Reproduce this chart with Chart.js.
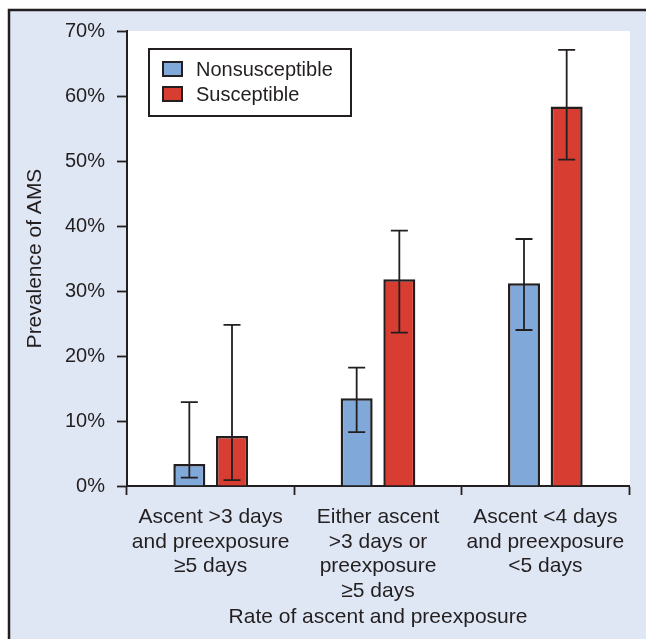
<!DOCTYPE html>
<html>
<head>
<meta charset="utf-8">
<title>Prevalence of AMS by rate of ascent and preexposure</title>
<script src="https://cdn.jsdelivr.net/npm/chart.js@4.4.1/dist/chart.umd.min.js"></script>
<style>
  html, body { margin: 0; padding: 0; background: #ffffff; }
  #wrap { width: 646px; height: 639px; }
</style>
</head>
<body>
<div id="wrap"><canvas id="c" width="646" height="639"></canvas></div>
<script>
// Category labels (multi-line)
const categories = [
  ['Ascent >3 days', 'and preexposure', '\u22655 days'],
  ['Either ascent', '>3 days or', 'preexposure', '\u22655 days'],
  ['Ascent <4 days', 'and preexposure', '<5 days']
];

// Prevalence of AMS (%) and 95% confidence limits
const nonsusceptible = [3.4, 13.5, 31.2];
const nonsusceptibleLow = [1.3, 8.3, 24.0];
const nonsusceptibleHigh = [12.9, 18.2, 38.0];

const susceptible = [7.7, 31.8, 58.4];
const susceptibleLow = [0.9, 23.6, 50.2];
const susceptibleHigh = [24.8, 39.3, 67.1];

const yTicks = [0, 10, 20, 30, 40, 50, 60, 70];

const INK = '#231f20';
const FONT = "'Liberation Sans', Arial, Helvetica, sans-serif";

// Panel background, frame and white plotting area
const panelPlugin = {
  id: 'panel',
  beforeDraw(chart) {
    const ctx = chart.ctx;
    const a = chart.chartArea;
    ctx.save();
    ctx.fillStyle = '#ffffff';
    ctx.fillRect(0, 0, chart.width, chart.height);
    ctx.fillStyle = '#dfe7f4';
    ctx.fillRect(8, 9, chart.width - 8, chart.height - 9);
    ctx.strokeStyle = INK;
    ctx.lineWidth = 2.5;
    ctx.beginPath();
    ctx.moveTo(9, chart.height);
    ctx.lineTo(9, 10);
    ctx.lineTo(chart.width, 10);
    ctx.stroke();
    ctx.fillStyle = '#ffffff';
    ctx.fillRect(a.left, a.top, a.right - a.left + 1, a.bottom - a.top);
    ctx.restore();
  }
};

// Confidence-interval whiskers drawn over each bar
const errorBarPlugin = {
  id: 'errorBars',
  afterDatasetsDraw(chart) {
    const ctx = chart.ctx;
    const y = chart.scales.y;
    const limits = [
      [nonsusceptibleLow, nonsusceptibleHigh],
      [susceptibleLow, susceptibleHigh]
    ];
    ctx.save();
    ctx.strokeStyle = INK;
    ctx.lineWidth = 1.8;
    chart.data.datasets.forEach((ds, di) => {
      const meta = chart.getDatasetMeta(di);
      meta.data.forEach((bar, i) => {
        const x = bar.x;
        const yl = y.getPixelForValue(limits[di][0][i]);
        const yh = y.getPixelForValue(limits[di][1][i]);
        const cap = 8.5;
        ctx.beginPath();
        ctx.moveTo(x, yl);
        ctx.lineTo(x, yh);
        ctx.moveTo(x - cap, yh);
        ctx.lineTo(x + cap, yh);
        ctx.moveTo(x - cap, yl);
        ctx.lineTo(x + cap, yl);
        ctx.stroke();
      });
    });
    ctx.restore();
  }
};

// Boxed legend in the upper-left of the plotting area
const boxLegendPlugin = {
  id: 'boxLegend',
  afterDraw(chart) {
    const ctx = chart.ctx;
    const a = chart.chartArea;
    const left = a.left + 22, top = a.top + 18;
    const w = 202, h = 67;
    ctx.save();
    ctx.fillStyle = '#ffffff';
    ctx.fillRect(left, top, w, h);
    ctx.strokeStyle = INK;
    ctx.lineWidth = 2;
    ctx.strokeRect(left, top, w, h);
    ctx.font = '20px ' + FONT;
    ctx.textBaseline = 'middle';
    ctx.textAlign = 'left';
    chart.data.datasets.forEach((ds, i) => {
      const cy = top + 20 + i * 25;
      ctx.fillStyle = ds.backgroundColor;
      ctx.fillRect(left + 14, cy - 7, 19, 14);
      ctx.lineWidth = 2;
      ctx.strokeStyle = INK;
      ctx.strokeRect(left + 14, cy - 7, 19, 14);
      ctx.fillStyle = INK;
      ctx.fillText(ds.label, left + 47, cy + 1);
    });
    ctx.restore();
  }
};

new Chart(document.getElementById('c'), {
  type: 'bar',
  data: {
    labels: categories,
    datasets: [
      {
        label: 'Nonsusceptible',
        data: nonsusceptible,
        backgroundColor: '#80a8d8',
        borderColor: INK,
        borderWidth: 2.5
      },
      {
        label: 'Susceptible',
        data: susceptible,
        backgroundColor: '#d83d32',
        borderColor: INK,
        borderWidth: 2.5
      }
    ]
  },
  options: {
    responsive: false,
    animation: false,
    devicePixelRatio: 1,
    categoryPercentage: 0.51,
    barPercentage: 0.75,
    layout: { padding: { left: 0, top: 31, right: 17, bottom: 0 } },
    plugins: {
      legend: { display: false },
      tooltip: { enabled: false }
    },
    scales: {
      x: {
        afterFit(scale) { scale.height = 153; },
        grid: {
          display: true,
          offset: true,
          drawOnChartArea: false,
          drawTicks: true,
          tickLength: 9,
          tickColor: INK,
          tickWidth: 1.8
        },
        border: { display: true, color: INK, width: 2 },
        ticks: {
          color: INK,
          padding: 10,
          maxRotation: 0,
          autoSkip: false,
          font: { family: FONT, size: 21, lineHeight: '24.5px' }
        },
        title: {
          display: true,
          text: 'Rate of ascent and preexposure',
          color: INK,
          padding: { top: 0, bottom: 10 },
          font: { family: FONT, size: 21, lineHeight: '24px' }
        }
      },
      y: {
        min: 0,
        max: 70,
        afterFit(scale) { scale.width = 127; },
        afterBuildTicks(scale) { scale.ticks = yTicks.map(v => ({ value: v })); },
        grid: {
          display: true,
          drawOnChartArea: false,
          drawTicks: true,
          tickLength: 10,
          tickColor: INK,
          tickWidth: 1.8
        },
        border: { display: true, color: INK, width: 2 },
        ticks: {
          color: INK,
          padding: 12,
          font: { family: FONT, size: 20 },
          callback: v => v + '%'
        },
        title: {
          display: true,
          text: 'Prevalence of AMS',
          color: INK,
          padding: { top: 23, bottom: 0 },
          font: { family: FONT, size: 21, lineHeight: '24px' }
        }
      }
    }
  },
  plugins: [panelPlugin, errorBarPlugin, boxLegendPlugin]
});
</script>
</body>
</html>
